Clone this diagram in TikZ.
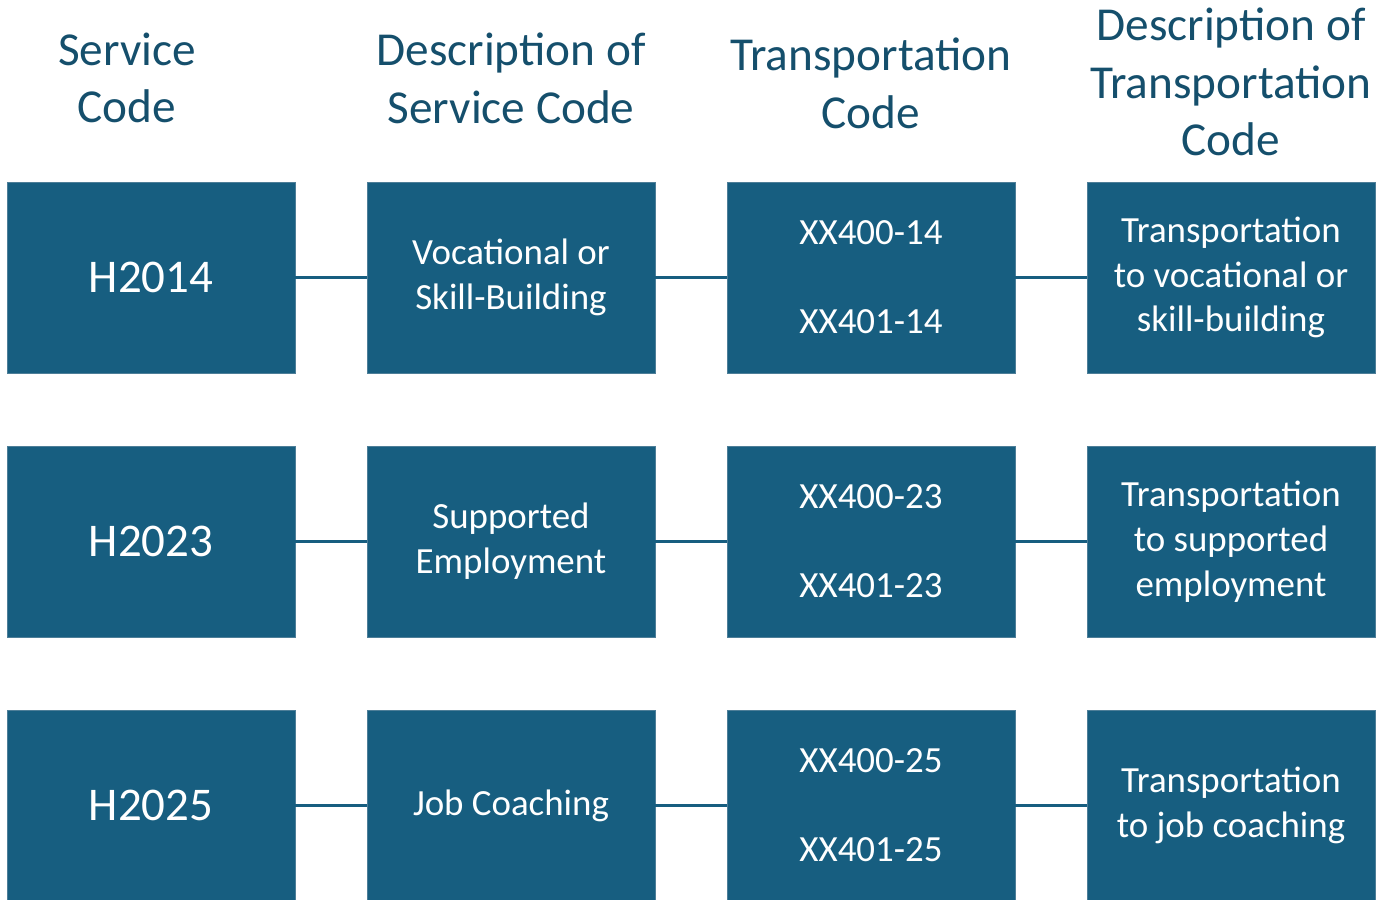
\documentclass[tikz,border=0pt]{standalone}
\usepackage{fontspec}
\setmainfont{Carlito}
\usetikzlibrary{positioning}
\definecolor{boxblue}{HTML}{175E80}
\definecolor{boxedge}{HTML}{4D7E98}
\definecolor{headblue}{HTML}{154F6C}
\tikzset
{
    codebox/.style  = {rectangle, fill=boxblue, draw=boxedge, line width=0.4pt, text=white, align=center, minimum width=5.76cm, minimum height=3.82cm, inner sep=0pt, outer sep=0pt},
    bigcode/.style  = {codebox, font=\fontsize{26.7pt}{32pt}\selectfont},
    smallcode/.style= {codebox, font=\fontsize{21pt}{25.5pt}\selectfont},
    headtext/.style = {text=headblue, align=center, inner sep=0pt, font=\fontsize{26.9pt}{32.9pt}\selectfont},
    link/.style     = {draw=boxblue, line width=1.2pt}
}
\begin{document}
\begin{tikzpicture}[x=0.02cm,y=-0.02cm]
\useasboundingbox (0,0) rectangle (1389,899);
\node [headtext] at (127,78) (h1) {Service\\Code};
\node [headtext] at (511,78) (h2) {Description of\\Service Code};
\node [headtext] at (871,83) (h3) {Transportation\\Code};
\node [headtext] at (1231,82) (h4) {Description of\\Transportation\\Code};
% first row
\node [bigcode] at (151,277.5) (s1) {H2014};
\node [smallcode] at (511,277.5) (d1) {Vocational or\\Skill-Building};
\node [smallcode] at (871,277.5) (t1) {XX400-14\\[25pt]XX401-14};
\node [smallcode] at (1231,277.5) (e1) {Transportation\\to vocational or\\skill-building};
% second row
\node [bigcode] at (151,541.5) (s2) {H2023};
\node [smallcode] at (511,541.5) (d2) {Supported\\Employment};
\node [smallcode] at (871,541.5) (t2) {XX400-23\\[25pt]XX401-23};
\node [smallcode] at (1231,541.5) (e2) {Transportation\\to supported\\employment};
% third row
\node [bigcode] at (151,805.5) (s3) {H2025};
\node [smallcode] at (511,805.5) (d3) {Job Coaching};
\node [smallcode] at (871,805.5) (t3) {XX400-25\\[25pt]XX401-25};
\node [smallcode] at (1231,805.5) (e3) {Transportation\\to job coaching};
\draw [link] (s1) -- (d1) (d1) -- (t1) (t1) -- (e1);
\draw [link] (s2) -- (d2) (d2) -- (t2) (t2) -- (e2);
\draw [link] (s3) -- (d3) (d3) -- (t3) (t3) -- (e3);
\end{tikzpicture}
\end{document}
